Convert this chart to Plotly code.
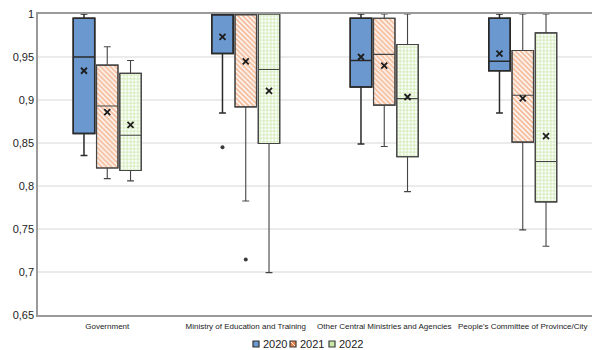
import plotly.graph_objects as go

# Categories and years
categories = [
    "Government",
    "Ministry of Education and Training",
    "Other Central Ministries and Agencies",
    "People's Committee of Province/City",
]
years = ["2020", "2021", "2022"]

# Box statistics per year, one value per category
q1 = {
    "2020": [0.861, 0.954, 0.915, 0.934],
    "2021": [0.821, 0.892, 0.894, 0.851],
    "2022": [0.818, 0.8495, 0.834, 0.7815],
}
median = {
    "2020": [0.950, 1.000, 0.946, 0.945],
    "2021": [0.893, 1.000, 0.953, 0.9055],
    "2022": [0.859, 0.9355, 0.9016, 0.8285],
}
q3 = {
    "2020": [0.995, 1.000, 0.995, 0.995],
    "2021": [0.9405, 1.000, 0.995, 0.9576],
    "2022": [0.931, 1.000, 0.9646, 0.978],
}
lower = {
    "2020": [0.8355, 0.885, 0.8487, 0.885],
    "2021": [0.8086, 0.7826, 0.846, 0.749],
    "2022": [0.806, 0.6993, 0.7935, 0.730],
}
upper = {
    "2020": [1.000, 1.000, 1.000, 1.000],
    "2021": [0.962, 1.000, 1.000, 1.000],
    "2022": [0.946, 1.000, 1.000, 1.000],
}
mean = {
    "2020": [0.934, 0.9735, 0.950, 0.954],
    "2021": [0.886, 0.945, 0.940, 0.902],
    "2022": [0.871, 0.9105, 0.9035, 0.858],
}
# Outliers: (category index, value)
outliers = {
    "2020": [(1, 0.845)],
    "2021": [(1, 0.7145)],
    "2022": [],
}

y_ticks = [0.65, 0.7, 0.75, 0.8, 0.85, 0.9, 0.95, 1.0]
y_ticktext = ["0,65", "0,7", "0,75", "0,8", "0,85", "0,9", "0,95", "1"]

W, H = 592, 350
M = dict(l=38, r=0, t=14, b=35)
PW, PH = W - M["l"] - M["r"], H - M["t"] - M["b"]

offsets = {"2020": -0.168, "2021": 0.0, "2022": 0.168}
box_w = 0.155

styles = {
    "2020": dict(fill="#6b98cf", line="#2a2a2a", lw=1.5, pattern=None),
    "2021": dict(fill="#ffffff", line="#444444", lw=1.1,
                 pattern=dict(shape="\\", fgcolor="#ea7d3e", bgcolor="#ffffff",
                              size=3.5, solidity=0.6)),
    "2022": dict(fill="#ffffff", line="#444444", lw=1.1,
                 pattern=dict(shape="+", fgcolor="#98d160", bgcolor="#ffffff",
                              size=3.5, solidity=0.45)),
}

fig = go.Figure()

for yr in years:
    st = styles[yr]
    xs = [i + offsets[yr] for i in range(len(categories))]
    # Patterned fill of the interquartile box
    marker = dict(color=st["fill"], line=dict(color=st["line"], width=st["lw"]))
    if st["pattern"]:
        marker["pattern"] = st["pattern"]
    fig.add_trace(go.Bar(
        x=xs,
        base=q1[yr],
        y=[b - a for a, b in zip(q1[yr], q3[yr])],
        width=box_w,
        marker=marker,
        name=yr,
        showlegend=False,
        hoverinfo="skip",
    ))
    # Box outline, median and whiskers
    fig.add_trace(go.Box(
        x=xs,
        q1=q1[yr],
        median=median[yr],
        q3=q3[yr],
        lowerfence=lower[yr],
        upperfence=upper[yr],
        width=box_w,
        whiskerwidth=0.32,
        fillcolor="rgba(0,0,0,0)",
        line=dict(color=st["line"], width=st["lw"]),
        boxpoints=False,
        showlegend=False,
    ))
    # Mean markers
    fig.add_trace(go.Scatter(
        x=xs,
        y=mean[yr],
        mode="markers",
        marker=dict(symbol="x-thin", size=6, line=dict(color="#1e1e1e", width=1.8)),
        showlegend=False,
        hoverinfo="skip",
    ))
    # Outlier points
    if outliers[yr]:
        fig.add_trace(go.Scatter(
            x=[c + offsets[yr] for c, _ in outliers[yr]],
            y=[v for _, v in outliers[yr]],
            mode="markers",
            marker=dict(symbol="circle", size=4, color="#3a3a3a"),
            showlegend=False,
            hoverinfo="skip",
        ))


# Compact legend below the axis: small squares followed by the year
def px_x(px):
    return (px - M["l"]) / PW


def px_y(py):
    return (H - M["b"] - py) / PH


legend_items = [
    ("2020", 253, "#6b98cf", "#2f2f2f"),
    ("2021", 290, "#ec8245", "#3a3a3a"),
    ("2022", 329, "#c9eaa6", "#3a3a3a"),
]
shapes = []
annotations = []
for label, sx, fill, edge in legend_items:
    shapes.append(dict(
        type="rect", xref="paper", yref="paper",
        x0=px_x(sx), x1=px_x(sx + 6), y0=px_y(347), y1=px_y(341),
        fillcolor=fill, line=dict(color=edge, width=1.2), layer="above",
    ))
    if label == "2021":
        shapes.append(dict(
            type="line", xref="paper", yref="paper",
            x0=px_x(sx + 1), x1=px_x(sx + 5), y0=px_y(342), y1=px_y(346),
            line=dict(color="#ffffff", width=1), layer="above",
        ))
    annotations.append(dict(
        text=label, xref="paper", yref="paper",
        x=px_x(sx + 8), y=px_y(344), xanchor="left", yanchor="middle",
        showarrow=False, font=dict(size=11, color="#222222"),
    ))

fig.update_layout(
    width=W,
    height=H,
    margin=dict(l=M["l"], r=M["r"], t=M["t"], b=M["b"], autoexpand=False),
    paper_bgcolor="white",
    plot_bgcolor="white",
    barmode="overlay",
    boxmode="overlay",
    showlegend=False,
    font=dict(family="Liberation Sans, Arial, sans-serif", color="#222222"),
    shapes=shapes,
    annotations=annotations,
    xaxis=dict(
        range=[-0.5, 3.5],
        tickvals=list(range(len(categories))),
        ticktext=categories,
        tickfont=dict(size=8, color="#222222"),
        showgrid=False,
        zeroline=False,
        showline=True,
        linecolor="#9a9a9a",
        linewidth=1.5,
        mirror=True,
        ticks="outside",
        ticklen=3,
        tickcolor="rgba(0,0,0,0)",
    ),
    yaxis=dict(
        range=[0.65, 1.0],
        tickvals=y_ticks,
        ticktext=y_ticktext,
        tickfont=dict(size=11, color="#222222"),
        showgrid=True,
        gridcolor="#ebebeb",
        gridwidth=1.5,
        zeroline=False,
        showline=True,
        linecolor="#9a9a9a",
        linewidth=1.5,
        ticks="",
    ),
)

fig.write_html("out.html")
